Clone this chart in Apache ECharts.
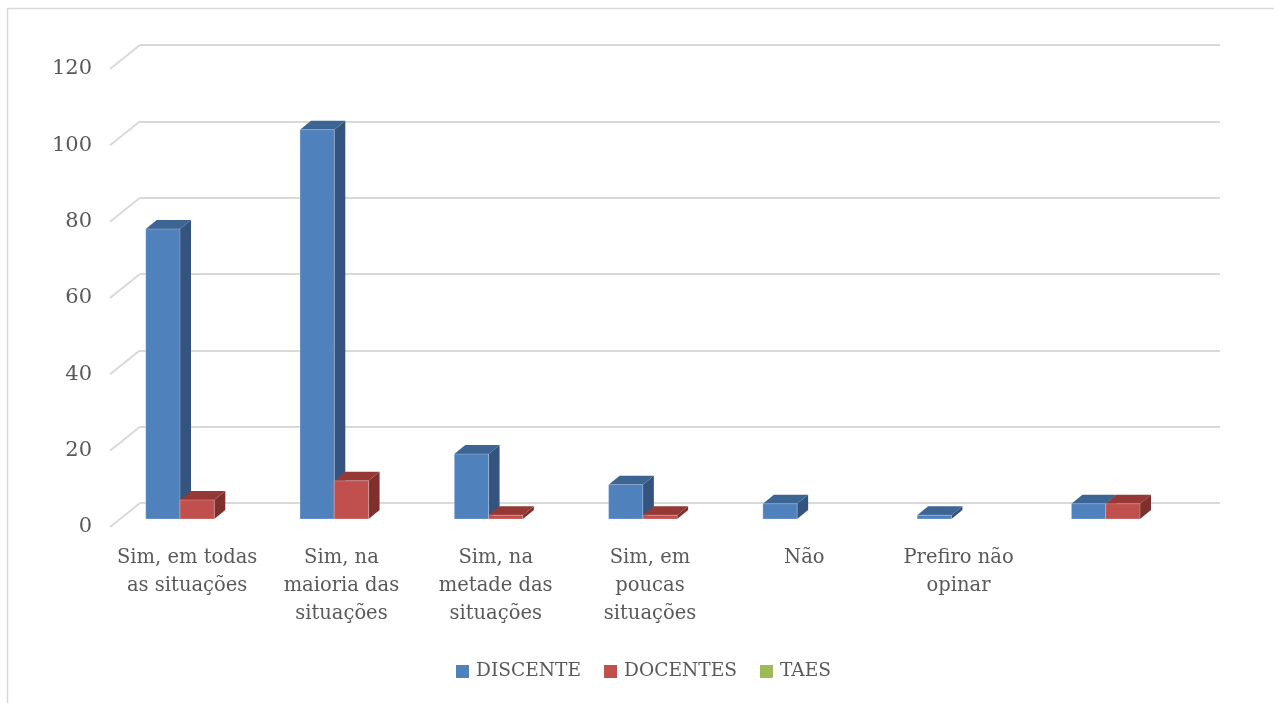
<!DOCTYPE html>
<html>
<head>
<meta charset="utf-8">
<script src="https://cdn.jsdelivr.net/npm/echarts@6/dist/echarts.min.js"></script>
<style>html,body{margin:0;padding:0;background:#fff;}#c{width:1274px;height:703px;}</style>
</head>
<body>
<div id="c"></div>
<script>
const categories = [
  "Sim, em todas\nas situações",
  "Sim, na\nmaioria das\nsituações",
  "Sim, na\nmetade das\nsituações",
  "Sim, em\npoucas\nsituações",
  "Não",
  "Prefiro não\nopinar",
  ""
];
const discente = [76, 102, 17, 9, 4, 1, 4];
const docentes = [5, 10, 1, 1, 0, 0, 4];
const taes = [0, 0, 0, 0, 0, 0, 0];
const yTicks = [0, 20, 40, 60, 80, 100, 120];

const FONT = "DejaVu Serif";
const TXT = "#595959";
const GRID_C = "#d9d9d9";
const seriesDefs = [
  { name: "DISCENTE", data: discente, front: "#4F81BD", side: "#34547F", top: "#3D6594" },
  { name: "DOCENTES", data: docentes, front: "#C0504D", side: "#7F302E", top: "#953836" },
  { name: "TAES", data: taes, front: "#9BBB59", side: "#677D3B", top: "#789245" }
];
const nSeries = seriesDefs.length;
const DX = 11, DY = -9;

function barRenderer(k, def) {
  return function (params, api) {
    const cat = api.value(0), v = api.value(1);
    if (!v) return null;
    const base = api.coord([cat, 0]);
    const top = api.coord([cat, v]);
    const band = api.size([1, 0])[0];
    const w = band / (nSeries + 1.5);
    const x0 = base[0] - (nSeries / 2) * w + k * w;
    const x1 = x0 + w;
    const yb = base[1], yt = top[1];
    return {
      type: "group",
      children: [
        { type: "polygon", shape: { points: [[x1, yb], [x1 + DX, yb + DY], [x1 + DX, yt + DY], [x1, yt]] },
          style: { fill: def.side } },
        { type: "polygon", shape: { points: [[x0, yt], [x0 + DX, yt + DY], [x1 + DX, yt + DY], [x1, yt]] },
          style: { fill: def.top } },
        { type: "rect", shape: { x: x0, y: yt, width: w, height: yb - yt },
          style: { fill: def.front, stroke: "rgba(255,255,255,0.25)", lineWidth: 1 } }
      ]
    };
  };
}

const chart = echarts.init(document.getElementById("c"), null, { renderer: "canvas" });

const series = [
  {
    type: "custom",
    xAxisIndex: 1, yAxisIndex: 1,
    silent: true,
    data: yTicks.map(v => [0, v]),
    renderItem: function (params, api) {
      const p = api.coord([0, api.value(1)]);
      const x = params.coordSys.x;
      return { type: "line", shape: { x1: x, y1: p[1], x2: x + 30, y2: p[1] - 24 },
        style: { stroke: GRID_C, lineWidth: 2 } };
    }
  }
];
seriesDefs.forEach((def, k) => {
  series.push({
    type: "custom",
    name: def.name,
    xAxisIndex: 2, yAxisIndex: 2,
    itemStyle: { color: def.front },
    data: def.data.map((v, i) => [i, v]),
    renderItem: barRenderer(k, def)
  });
});

const valAxisBase = { type: "value", min: 0, max: 120, interval: 20 };

chart.setOption({
  backgroundColor: "#fff",
  animation: false,
  graphic: [
    { type: "rect", silent: true, shape: { x: 7.5, y: 8.5, width: 1300, height: 800 },
      style: { fill: null, stroke: GRID_C, lineWidth: 1.5 } }
  ],
  legend: {
    left: 451, top: 657,
    itemWidth: 13, itemHeight: 13, itemGap: 23,
    icon: "rect",
    data: seriesDefs.map(d => d.name),
    textStyle: { fontFamily: FONT, fontSize: 18.6, color: TXT, padding: [0, 0, 0, 2] }
  },
  grid: [
    { left: 140, top: 45, width: 1080, height: 458 },
    { left: 110, top: 69, width: 1080, height: 458 },
    { left: 120, top: 61, width: 1080, height: 458 }
  ],
  xAxis: [
    { type: "category", gridIndex: 0, data: categories, show: false },
    { type: "category", gridIndex: 1, data: categories,
      axisLine: { show: false }, axisTick: { show: false },
      axisLabel: { interval: 0, margin: 17, fontFamily: FONT, fontSize: 19.5, color: TXT, lineHeight: 28 } },
    { type: "category", gridIndex: 2, data: categories, show: false }
  ],
  yAxis: [
    Object.assign({ gridIndex: 0, axisLabel: { show: false }, axisLine: { show: false }, axisTick: { show: false },
      splitLine: { show: true, lineStyle: { color: GRID_C, width: 2 } } }, valAxisBase),
    Object.assign({ gridIndex: 1, axisLine: { show: false }, axisTick: { show: false }, splitLine: { show: false },
      axisLabel: { margin: 18, fontFamily: FONT, fontSize: 21, color: TXT } }, valAxisBase),
    Object.assign({ gridIndex: 2, show: false, splitLine: { show: false } }, valAxisBase)
  ],
  series: series
});
</script>
</body>
</html>
